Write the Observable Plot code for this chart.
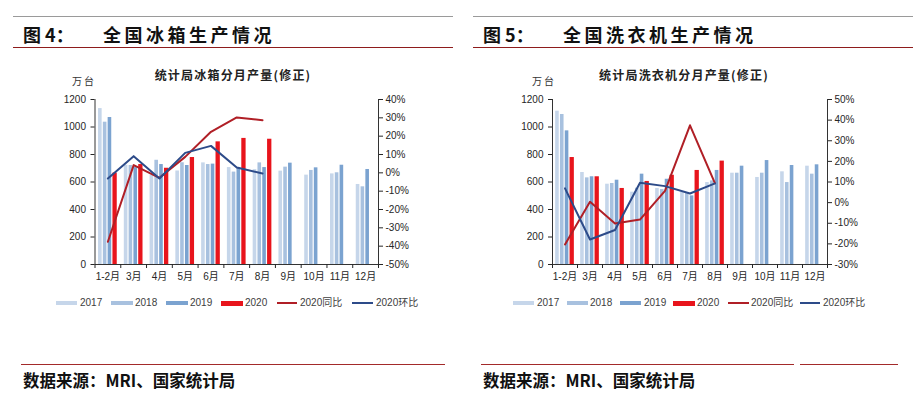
<!DOCTYPE html>
<html><head><meta charset="utf-8">
<script src="https://cdn.jsdelivr.net/npm/d3@7"></script>
<script src="https://cdn.jsdelivr.net/npm/@observablehq/plot@0.6"></script>
<style>
body{margin:0;background:#fff;}
#root{position:relative;width:915px;height:412px;overflow:hidden;background:#fff;font-family:"Liberation Sans","Noto Sans CJK SC",sans-serif;}
.abs{position:absolute;white-space:nowrap;}
.rule{position:absolute;height:1px;}
.fig{font-family:"Noto Sans CJK SC",sans-serif;font-weight:700;font-size:18px;line-height:18px;color:#111;}
.ctitle{font-family:"Noto Sans CJK SC",sans-serif;font-weight:700;font-size:12px;line-height:12px;letter-spacing:1.2px;color:#222;transform:translateX(-50%);}
.unit{font-family:"Noto Sans CJK SC",sans-serif;font-size:10px;line-height:10px;color:#333;letter-spacing:2px;}
.leg{font-size:10px;line-height:10px;color:#404040;font-family:"Liberation Sans","Noto Sans CJK SC",sans-serif;}
.src{font-family:"Noto Sans CJK SC",sans-serif;font-weight:700;font-size:16.5px;line-height:17px;color:#111;}
.plot{position:absolute;top:90px;}
</style></head><body><div id="root"></div>
<script>
// ---------- data ----------
const months = ["1-2月","3月","4月","5月","6月","7月","8月","9月","10月","11月","12月"];
const years = ["2017","2018","2019","2020"];
const lineNames = ["2020同比","2020环比"];

// 冰箱 (万台)
const fridge2017 = [1134, 722, 650, 680, 739, 705, 690, 679, 650, 659, 582];
const fridge2018 = [1035, 720, 758, 740, 727, 672, 739, 708, 684, 667, 565];
const fridge2019 = [1069, 705, 727, 720, 730, 705, 705, 737, 703, 722, 691];
const fridge2020 = [665, 727, 700, 778, 892, 917, 911];
const fridgeYoY = [-37.6, 4.2, -2.7, 8.7, 22.4, 30.2, 28.7];
const fridgeMoM = [-3.1, 9.1, -3.1, 10.9, 14.7, 2.9, -0.4];

// 洗衣机 (万台)
const washer2017 = [1115, 669, 584, 526, 553, 528, 596, 664, 633, 674, 715];
const washer2018 = [1091, 630, 589, 555, 545, 516, 608, 664, 664, 596, 657];
const washer2019 = [972, 638, 613, 657, 620, 499, 684, 715, 756, 720, 725];
const washer2020 = [778, 638, 553, 604, 649, 684, 752];
const washerYoY = [-20.3, 0.4, -10.1, -8.2, 5.7, 37.5, 9.3];
const washerMoM = [6.9, -17.9, -13.3, 9.6, 8.0, 4.4, 9.3];

const leftTicks = [0, 200, 400, 600, 800, 1000, 1200];

// ---------- styles ----------
const barColors = {"2017": "#c6d6ea", "2018": "#a8c1df", "2019": "#7ba3d0", "2020": "#e8141c"};
const yoyColor = "#b01f26";
const momColor = "#2d4b89";

function chart({v17, v18, v19, v20, yoy, mom, pMin, pMax, marginLeft, marginRight}) {
  const width = 457, height = 200, marginTop = 9, marginBottom = 26;
  const n = months.length;
  const band = (width - marginLeft - marginRight) / n;
  const barW = 3.6 / band, redW = 4.3 / band, step = 4.8 / band;
  const start = 0.5 - (3 * step + redW) / 2;
  const series = [v17, v18, v19, v20];
  const bars = [];
  series.forEach((vals, j) => vals.forEach((v, i) => {
    const x1 = i + start + j * step;
    bars.push({year: years[j], v, x1, x2: x1 + (j === 3 ? redW : barW)});
  }));
  const toY = p => (p - pMin) / (pMax - pMin) * 1200;
  const fromY = y => Math.round(y / 1200 * (pMax - pMin) + pMin);
  const pTicks = d3.range(pMin, pMax + 1, 10);
  const yoyPts = yoy.map((p, i) => ({x: i + 0.5, y: toY(p)}));
  const momPts = mom.map((p, i) => ({x: i + 0.5, y: toY(p)}));
  return Plot.plot({
    width, height, marginTop, marginBottom, marginLeft, marginRight,
    style: {fontFamily: '"Liberation Sans","Noto Sans CJK SC",sans-serif', fontSize: "10px", color: "#262626", background: "transparent"},
    x: {domain: [0, n], axis: null},
    y: {domain: [0, 1200], axis: null},
    color: {type: "identity"},
    marks: [
      Plot.rectY(bars, {x1: "x1", x2: "x2", y1: 0, y2: "v", fill: d => barColors[d.year]}),
      Plot.line(yoyPts, {x: "x", y: "y", stroke: yoyColor, strokeWidth: 2}),
      Plot.line(momPts, {x: "x", y: "y", stroke: momColor, strokeWidth: 2}),
      Plot.ruleY([0], {stroke: "#333"}),
      Plot.ruleX([0], {stroke: "#333"}),
      Plot.ruleX([n], {stroke: "#333"}),
      Plot.axisY({anchor: "left", ticks: leftTicks, tickSize: 4, tickPadding: 5, tickFormat: d => String(d)}),
      Plot.axisY({anchor: "right", ticks: pTicks.map(toY), tickSize: 4, tickPadding: 3, tickFormat: y => fromY(y) + "%"}),
      Plot.axisX({ticks: d3.range(n + 1), tickSize: 4, tickFormat: () => ""}),
      Plot.axisX({ticks: months.map((m, i) => i + 0.5), tickSize: 0, tickPadding: 8, tickFormat: v => months[Math.floor(v)]})
    ]
  });
}

const root = document.getElementById("root");
function add(html) { root.insertAdjacentHTML("beforeend", html); }
function rule(x1, x2, y, color) { add(`<div class="rule" style="left:${x1}px;width:${x2 - x1}px;top:${y}px;background:${color}"></div>`); }

function panel(X, fig, titleText, chartTitle, cx, cfg, bottomRules, legendPos) {
  rule(X + 13, X + 453, 16, "#9a9a9a");
  add(`<div class="abs fig" style="left:${X + 23}px;top:25px">${fig}</div>`);
  add(`<div class="abs fig" style="left:${X + 103}px;top:25px;letter-spacing:3.5px">${titleText}</div>`);
  rule(X + 13, X + 453, 47, "#8e1c1c");
  add(`<div class="abs ctitle" style="left:${X + cx}px;top:69px">${chartTitle}</div>`);
  add(`<div class="abs unit" style="left:${X + 72}px;top:76px">万台</div>`);
  const el = chart(cfg);
  el.classList.add("plot");
  el.style.left = (X - 2) + "px";
  root.appendChild(el);
  // legend
  const items = [
    {t: years[0], kind: "bar", c: barColors["2017"], h: 4},
    {t: years[1], kind: "bar", c: barColors["2018"], h: 4},
    {t: years[2], kind: "bar", c: barColors["2019"], h: 4},
    {t: years[3], kind: "bar", c: barColors["2020"], h: 5},
    {t: lineNames[0], kind: "line", c: yoyColor, h: 1.6},
    {t: lineNames[1], kind: "line", c: momColor, h: 1.6}
  ];
  items.forEach((it, k) => {
    const [s1, s2, tx] = legendPos[k];
    add(`<div class="abs" style="left:${s1}px;width:${s2 - s1}px;top:${303 - it.h / 2}px;height:${it.h}px;background:${it.c}"></div>`);
    add(`<div class="abs leg" style="left:${tx}px;top:298px">${it.t}</div>`);
  });
  bottomRules.forEach(([a, b]) => rule(a, b, 364, "#a32a2a"));
  add(`<div class="abs src" style="left:${X + 23}px;top:372px">数据来源：MRI、国家统计局</div>`);
}

panel(0, "图 4：", "全国冰箱生产情况", "统计局冰箱分月产量(修正)", 233,
  {v17: fridge2017, v18: fridge2018, v19: fridge2019, v20: fridge2020, yoy: fridgeYoY, mom: fridgeMoM, pMin: -50, pMax: 40, marginLeft: 96.5, marginRight: 77},
  [[21, 445]],
  [[56, 77, 80], [111, 133, 135], [166, 188, 190], [221, 243, 245], [277, 297, 300], [352, 373, 376]]);

panel(460, "图 5：", "全国洗衣机生产情况", "统计局洗衣机分月产量(修正)", 224,
  {v17: washer2017, v18: washer2018, v19: washer2019, v20: washer2020, yoy: washerYoY, mom: washerMoM, pMin: -30, pMax: 50, marginLeft: 94, marginRight: 88},
  [[481, 794], [800, 898]],
  [[513, 534, 537], [567, 588, 590], [620, 641, 644], [673, 695, 697], [728, 749, 751], [800, 820, 823]]);
</script>
</body></html>
